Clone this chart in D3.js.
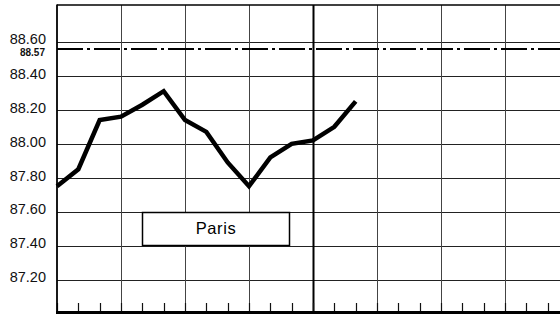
<!DOCTYPE html>
<html>
<head>
<meta charset="utf-8">
<script src="https://cdn.jsdelivr.net/npm/d3@7"></script>
<style>
  body { margin: 0; background: #fff; }
  svg { display: block; font-family: "Liberation Sans", Arial, sans-serif; }
</style>
</head>
<body>
<div id="chart"></div>
<script>
// Paris series, one point per minor step of the x axis
var steps = [0, 1, 2, 3, 4, 5, 6, 7, 8, 9, 10, 11, 12, 13, 14];
var paris = [87.75, 87.85, 88.14, 88.16, 88.23, 88.31, 88.14, 88.07, 87.89, 87.75, 87.92, 88.00, 88.02, 88.10, 88.25];
var yTicks = [87.2, 87.4, 87.6, 87.8, 88.0, 88.2, 88.4, 88.6];
var refValue = 88.57;
var seriesName = "Paris";

var width = 560, height = 314;

var svg = d3.select("#chart")
  .append("svg")
  .attr("width", width)
  .attr("height", height);

var x = d3.scaleLinear().domain([0, 24]).range([57, 569]);
var y = d3.scaleLinear().domain([87, 88.8]).range([313.5, 8]);

var minorTicks = d3.range(0, 25);
var majorTicks = minorTicks.filter(function (d) { return d % 3 === 0; });

// horizontal grid
svg.append("g")
  .selectAll("line")
  .data(yTicks)
  .enter()
  .append("line")
  .attr("x1", x(0))
  .attr("x2", width)
  .attr("y1", function (d) { return Math.round(y(d)) + 0.5; })
  .attr("y2", function (d) { return Math.round(y(d)) + 0.5; })
  .attr("stroke", "#222")
  .attr("stroke-width", 1.2);

// vertical grid
svg.append("g")
  .selectAll("line")
  .data(majorTicks.filter(function (d) { return d > 0; }))
  .enter()
  .append("line")
  .attr("x1", function (d) { return Math.round(x(d)) + 0.5; })
  .attr("x2", function (d) { return Math.round(x(d)) + 0.5; })
  .attr("y1", 5)
  .attr("y2", 312)
  .attr("stroke", function (d) { return d === 12 ? "#000" : "#444"; })
  .attr("stroke-width", function (d) { return d === 12 ? 2 : 1; });

// minor ticks on the bottom
svg.append("g")
  .selectAll("line")
  .data(minorTicks)
  .enter()
  .append("line")
  .attr("x1", function (d) { return Math.round(x(d)) + 0.5; })
  .attr("x2", function (d) { return Math.round(x(d)) + 0.5; })
  .attr("y1", 303)
  .attr("y2", 312)
  .attr("stroke", "#111")
  .attr("stroke-width", 1.2);

// frame: top, left, bottom
svg.append("line")
  .attr("x1", x(0)).attr("x2", width)
  .attr("y1", 5).attr("y2", 5)
  .attr("stroke", "#000").attr("stroke-width", 1.5);
svg.append("line")
  .attr("x1", x(0)).attr("x2", x(0))
  .attr("y1", 4.5).attr("y2", 313)
  .attr("stroke", "#000").attr("stroke-width", 1.8);
svg.append("line")
  .attr("x1", x(0) - 1).attr("x2", width)
  .attr("y1", 312.5).attr("y2", 312.5)
  .attr("stroke", "#000").attr("stroke-width", 3);

// reference dash-dot line
svg.append("line")
  .attr("x1", x(0))
  .attr("x2", width)
  .attr("y1", y(refValue) + 2)
  .attr("y2", y(refValue) + 2)
  .attr("stroke", "#000")
  .attr("stroke-width", 2)
  .attr("stroke-dasharray", "26,4,3,4");

// y labels
svg.append("g")
  .selectAll("text")
  .data(yTicks)
  .enter()
  .append("text")
  .attr("x", 46)
  .attr("y", function (d) { return y(d) - (d === 88.6 ? 2 : 1); })
  .attr("text-anchor", "end")
  .attr("dominant-baseline", "middle")
  .attr("font-size", 14.5)
  .attr("fill", "#111")
  .text(function (d) { return d3.format(".2f")(d); });

svg.append("text")
  .attr("x", 45)
  .attr("y", y(refValue) + 6.5)
  .attr("text-anchor", "end")
  .attr("dominant-baseline", "middle")
  .attr("font-family", "'Liberation Sans Narrow', 'Liberation Sans', Arial, sans-serif")
  .attr("font-weight", "bold")
  .attr("font-size", 10)
  .attr("fill", "#111")
  .text(d3.format(".2f")(refValue));

// legend box
svg.append("rect")
  .attr("x", 142.5)
  .attr("y", Math.round(y(87.6)) + 0.5)
  .attr("width", 147)
  .attr("height", 33)
  .attr("fill", "#fff")
  .attr("stroke", "#000")
  .attr("stroke-width", 1.5);
svg.append("text")
  .attr("x", 216)
  .attr("y", Math.round(y(87.6)) + 17.5)
  .attr("text-anchor", "middle")
  .attr("dominant-baseline", "middle")
  .attr("font-size", 16.5)
  .attr("letter-spacing", 0.6)
  .attr("fill", "#000")
  .text(seriesName);

// Paris line
var line = d3.line()
  .x(function (d, i) { return x(steps[i]); })
  .y(function (d) { return y(d); });

svg.append("path")
  .datum(paris)
  .attr("d", line)
  .attr("fill", "none")
  .attr("stroke", "#000")
  .attr("stroke-width", 4.5)
  .attr("stroke-linejoin", "miter");
</script>
</body>
</html>
